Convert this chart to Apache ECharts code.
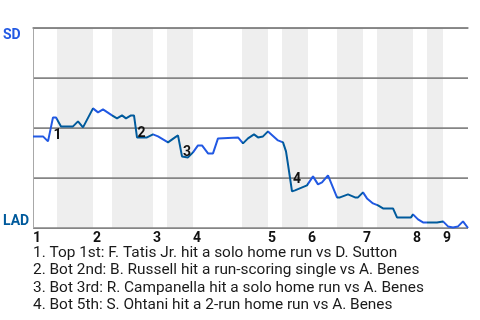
<!DOCTYPE html>
<html>
<head>
<meta charset="utf-8">
<script src="https://cdn.jsdelivr.net/npm/echarts@6/dist/echarts.min.js"></script>
<style>html,body{margin:0;padding:0;background:#fff;}#c{width:480px;height:320px;}</style>
</head>
<body>
<div id="c"></div>
<script>
// Play index (x) and San Diego win probability in percent (y)
const playX = [0, 2, 3, 4, 4.6, 5.6, 8, 9, 10, 12, 13, 14, 15.8, 16.8, 17.8, 18.6, 19.6, 20.2, 20.8, 22.8,
  24, 25, 27, 28.4, 29, 29.8, 31, 32, 33, 33.8, 35, 36, 37, 41, 42, 43, 44.2, 45, 46, 47,
  49, 50, 50.6, 51, 51.8, 52.4, 54.8, 56, 57, 57.8, 59, 60.8, 61.4, 63, 64.4, 65, 66, 66.8, 68, 69,
  70, 72, 72.8, 75.6, 76, 77, 78, 80.8, 81, 82, 83, 84, 85, 86, 87];
const sdWinPct = [45.8, 45.8, 43.3, 55.3, 55.3, 50.8, 50.8, 53.3, 50.3, 59.8, 57.8, 59.3, 56.3, 54.8, 56.3, 54.8, 56.3, 56.3, 45.3, 45.3,
  46.8, 45.8, 42.8, 45.3, 46.3, 35.8, 35.3, 37.8, 41.3, 41.3, 37.3, 37.3, 44.8, 45.3, 42.3, 44.8, 46.8, 45.3, 45.8, 48.3,
  43.8, 42.8, 38.3, 31.8, 18.3, 18.8, 21.3, 25.8, 21.8, 22.8, 26.3, 15.3, 15.3, 16.8, 15.3, 15.3, 17.8, 14.8, 12.3, 11.3,
  9.8, 9.8, 5.3, 5.3, 6.8, 4.3, 2.8, 2.8, 3.3, 3.3, 0.8, 0.3, 0.8, 3.3, 0];

// Innings: start of each inning (top half) and the bottom-half spans
const inningStarts = [0, 12, 24, 32, 47, 55, 66, 76, 82];
const inningLabels = ['1', '2', '3', '4', '5', '6', '7', '8', '9'];
const bottomHalfStart = [4.8, 15.8, 26.8, 41.8, 49.8, 60.8, 68.8, 78.8];
const bottomHalfEnd = [12, 24, 32, 47, 55, 66, 76, 82];
const playEnd = 87;

// Y axis labels and grid lines
const yLabelValues = [0, 100];
const yLabelTexts = ['LAD', 'SD'];
const yGridValues = [0, 25, 50, 75, 100];

// Scoring events
const eventTags = ['1', '2', '3', '4'];
const eventX = [4.0, 20.8, 29.9, 51.9];
const eventV = [46.3, 47.3, 37.8, 24.3];
const eventNotes = [
  '1. Top 1st: F. Tatis Jr. hit a solo home run vs D. Sutton',
  '2. Bot 2nd: B. Russell hit a run-scoring single vs A. Benes',
  '3. Bot 3rd: R. Campanella hit a solo home run vs A. Benes',
  '4. Bot 5th: S. Ohtani hit a 2-run home run vs A. Benes'
];

const SD_COLOR = '#2259e3';
const LAD_COLOR = '#005a9c';
const GRID_COLOR = '#858585';
const FONT = 'Roboto, "Noto Sans", sans-serif';

const chart = echarts.init(document.getElementById('c'), null, {renderer: 'canvas'});
const option = {
  animation: false,
  backgroundColor: '#fff',
  title: {
    text: eventNotes.join('\n'),
    left: 33, top: 244.5, padding: 0,
    textStyle: {fontFamily: FONT, fontSize: 15.4, fontWeight: 'normal', color: '#1a1a1a', lineHeight: 17.4}
  },
  grid: {left: 33, right: 12, top: 28, height: 200, containLabel: false},
  xAxis: [{
    type: 'value', min: 0, max: playEnd,
    splitLine: {show: false},
    axisTick: {show: false},
    axisLine: {show: false},
    axisLabel: {
      customValues: inningStarts,
      formatter: function (v) {
        let best = 0;
        for (let i = 0; i < inningStarts.length; i++) {
          if (Math.abs(inningStarts[i] - v) < Math.abs(inningStarts[best] - v)) best = i;
        }
        return inningLabels[best];
      },
      align: 'left', margin: 3,
      fontFamily: FONT, fontSize: 14, fontWeight: 'bold', color: '#111'
    }
  }, {
    type: 'value', min: 0, max: playEnd, position: 'top', z: 3,
    splitLine: {show: false}, axisTick: {show: false}, axisLabel: {show: false},
    axisLine: {show: true, onZero: false, lineStyle: {color: GRID_COLOR, width: 1.5}}
  }],
  yAxis: {
    type: 'value', min: 0, max: 100, interval: 25,
    z: 3,
    splitLine: {show: true, showMinLine: true, showMaxLine: true, lineStyle: {color: GRID_COLOR, width: 1}},
    axisLine: {show: true, lineStyle: {color: '#a8a8a8', width: 1}},
    axisTick: {show: false},
    axisLabel: {
      customValues: yLabelValues,
      formatter: function (v) {
        const i = yLabelValues.indexOf(v);
        return i === 1 ? '{sd|' + yLabelTexts[i] + '}' : '{lad|' + yLabelTexts[i] + '}';
      },
      align: 'left', margin: 30,
      verticalAlignMinLabel: 'bottom',
      verticalAlignMaxLabel: 'top',
      fontFamily: FONT, fontSize: 14, fontWeight: 'bold',
      rich: {
        sd: {color: SD_COLOR, fontFamily: FONT, fontSize: 14, fontWeight: 'bold'},
        lad: {color: LAD_COLOR, fontFamily: FONT, fontSize: 14, fontWeight: 'bold'}
      }
    }
  },
  visualMap: {
    show: false, type: 'piecewise', dimension: 0, seriesIndex: 0,
    pieces: bottomHalfStart.map((s, i) => ({gte: s, lt: bottomHalfEnd[i], color: LAD_COLOR})),
    outOfRange: {color: SD_COLOR}
  },
  series: [
    {
      type: 'line', z: 4,
      data: playX.map((x, i) => [x, sdWinPct[i]]),
      showSymbol: false, symbol: 'none',
      lineStyle: {width: 2},
      silent: true
    },
    {
      type: 'line', z: 1, data: [], silent: true,
      markArea: {
        silent: true, z: 1,
        itemStyle: {color: '#eeeeee'},
        data: bottomHalfStart.map((s, i) => [{xAxis: s}, {xAxis: bottomHalfEnd[i]}])
      }
    },
    {
      type: 'line', z: 2, data: [], silent: true, clip: false,
      markLine: {
        silent: true, z: 2,
        symbol: 'none',
        label: {show: false},
        lineStyle: {color: GRID_COLOR, width: 1.5, type: 'solid'},
        data: yGridValues.map(v => ({yAxis: v}))
      }
    },
    {
      type: 'line', z: 5, data: [], silent: true, clip: false,
      markPoint: {
        silent: true, z: 5,
        symbol: 'circle', symbolSize: 1,
        itemStyle: {color: 'rgba(0,0,0,0)'},
        label: {
          show: true, position: 'right', distance: 0,
          fontFamily: FONT, fontSize: 14, fontWeight: 'bold', color: '#111',
          formatter: p => p.name
        },
        data: eventTags.map((t, i) => ({name: t, coord: [eventX[i], eventV[i]]}))
      }
    }
  ]
};
chart.setOption(option);
</script>
</body>
</html>
